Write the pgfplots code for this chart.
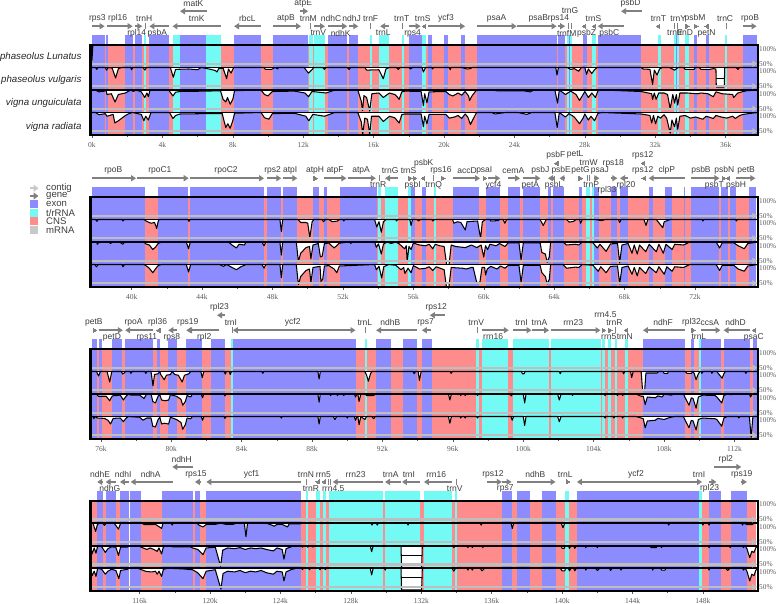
\documentclass[border=0pt]{standalone}
\usepackage{fontspec}
\usepackage{pgfplots}
\pgfplotsset{compat=1.18}
\usetikzlibrary{arrows.meta}
\setmainfont{Liberation Sans}
\newfontfamily\tickfont{Liberation Serif}
\definecolor{exon}{RGB}{140,140,255}
\definecolor{trna}{RGB}{115,250,245}
\definecolor{cns}{RGB}{255,140,140}
\definecolor{contig}{RGB}{190,190,190}
\definecolor{genec}{RGB}{128,128,128}
\definecolor{txt}{RGB}{60,60,60}
\definecolor{tickc}{RGB}{90,90,90}
\pgfplotsset{panel/.style={
  scale only axis,width=667.5pt,height=90pt,ymin=-140,ymax=100,clip=false,axis on top,
  axis line style={line width=2.2pt},
  xtick pos=bottom,xtick align=outside,minor x tick num=1,
  major tick length=3pt,minor tick length=2pt,
  xtick style={color=tickc,line width=.5pt},
  minor x tick style={color=tickc,line width=.5pt},
  ytick={-130,-90,-70,-30,-10,30,50,90},
  yticklabels={50\%,100\%,50\%,100\%,50\%,100\%,50\%,100\%},
  yticklabel pos=right,ytick style={draw=none},
  yticklabel style={font=\tickfont\fontsize{7.3}{8}\selectfont,text=tickc,inner sep=1pt,anchor=west},
  xticklabel style={font=\tickfont\fontsize{7.5}{8}\selectfont,text=tickc,yshift=-3pt,inner sep=1pt},
}}
\newcommand\E[2]{\addplot[fill=exon,draw=none] coordinates {(#1,-140)(#2,-140)(#2,126)(#1,126)};}
\newcommand\T[2]{\addplot[fill=trna,draw=none] coordinates {(#1,-140)(#2,-140)(#2,126)(#1,126)};}
\newcommand\CN[2]{\addplot[fill=cns,draw=none] coordinates {(#1,-140)(#2,-140)(#2,100)(#1,100)};}
\newcommand\cons[2]{\addplot[fill=white,draw=black,line width=1.05pt,line join=round,y filter/.expression={y-#1}] coordinates {#2};}
\newcommand\gapline[3]{\addplot[black,line width=.9pt] coordinates {(#1,#3)(#2,#3)};}
\newcommand\rowlines[2]{%
  \addplot[black,line width=1.9pt] coordinates {(#1,40)(#2,40)};
  \addplot[black,line width=1.9pt] coordinates {(#1,-20)(#2,-20)};
  \addplot[black,line width=1.9pt] coordinates {(#1,-80)(#2,-80)};
  \addplot[contig,line width=2.4pt,-{Triangle[length=5pt,width=6pt]}] coordinates {(#1,50)(#2,50)};
  \addplot[contig,line width=2.4pt,-{Triangle[length=5pt,width=6pt]}] coordinates {(#1,-10)(#2,-10)};
  \addplot[contig,line width=2.4pt,-{Triangle[length=5pt,width=6pt]}] coordinates {(#1,-70)(#2,-70)};
  \addplot[contig,line width=2.4pt,-{Triangle[length=5pt,width=6pt]}] coordinates {(#1,-130)(#2,-130)};}
\tikzset{garr/.style={genec,line width=2.1pt,-{Triangle[length=5pt,width=6pt]}}}
\newcommand\ga[2]{\addplot[garr] coordinates {(#1,150)(#2,150)};}
\newcommand\gu[2]{\addplot[garr] coordinates {(#1,190)(#2,190)};}
\newcommand\gb[2]{\addplot[genec,line width=2.1pt,{Triangle[length=5pt,width=6pt]}-{Triangle[length=5pt,width=6pt]}] coordinates {(#1,150)(#2,150)};}
\newcommand\tr[2][150]{\addplot[genec,only marks,mark=triangle*,mark size=2.3pt,mark options={rotate=-90,color=genec,fill=genec,draw=genec,line width=0pt}] coordinates {(#2,#1)};}
\newcommand\tl[2][150]{\addplot[genec,only marks,mark=triangle*,mark size=2.3pt,mark options={rotate=90,color=genec,fill=genec,draw=genec,line width=0pt}] coordinates {(#2,#1)};}
\newcommand\tk[1]{\addplot[genec,line width=.7pt] coordinates {(#1,142)(#1,158)};}
\newcommand\gl[3]{\node[font=\fontsize{8.5}{9}\selectfont,text=txt,inner sep=0pt] at (axis cs:#1,100) [yshift=#2pt] {#3};}
\def\A{26.5}\def\B{12}\def\TT{41.3}\def\M{34}
\begin{document}
\begin{tikzpicture}[x=1pt,y=1pt]
\path[use as bounding box] (0pt,0pt) rectangle (778pt,604pt);
%% ---------- panel 1
\begin{axis}[panel,at={(90.5pt,469pt)},anchor=south west,xmin=-0.085,xmax=37.84,
  xtick={0,4,...,36},xticklabels={0k,4k,8k,12k,16k,20k,24k,28k,32k,36k}]
\E{0}{.72}\CN{.72}{.81}\E{.81}{.91}\CN{.91}{1.875}\E{1.875}{2.35}\CN{2.35}{2.42}\E{2.42}{2.86}\CN{2.86}{2.95}\T{2.95}{3.05}\CN{3.05}{3.26}\E{3.26}{4.375}\CN{4.375}{4.6}\T{4.6}{4.98}\E{4.98}{6.5}\T{6.5}{7.35}\CN{7.35}{8.07}\E{8.07}{9.58}\CN{9.58}{10.27}\E{10.27}{12.27}\CN{12.27}{12.35}\T{12.35}{12.54}\CN{12.54}{12.6}\T{12.6}{13.24}\CN{13.24}{13.43}\E{13.43}{14.5}\CN{14.5}{14.6}\E{14.6}{15.13}\CN{15.13}{15.8}\T{15.8}{15.9}\CN{15.9}{16.29}\T{16.29}{16.9}\CN{16.9}{17.61}\T{17.61}{17.73}\CN{17.73}{18.01}\E{18.01}{18.73}\T{18.73}{18.96}\CN{18.96}{19.11}\E{19.11}{19.32}\CN{19.32}{20}\E{20}{20.23}\CN{20.23}{20.95}\E{20.95}{21.2}\CN{21.2}{21.86}\E{21.86}{26.44}\CN{26.44}{26.5}\E{26.5}{26.88}\CN{26.88}{27.01}\T{27.01}{27.11}\E{27.11}{27.15}\T{27.15}{27.27}\CN{27.27}{27.92}\E{27.92}{28.13}\CN{28.13}{28.43}\T{28.43}{28.62}\CN{28.62}{28.73}\E{28.73}{31.19}\CN{31.19}{32.14}\T{32.14}{32.33}\CN{32.33}{33.07}\T{33.07}{33.18}\E{33.18}{33.24}\T{33.24}{33.33}\CN{33.33}{33.69}\T{33.69}{33.9}\CN{33.9}{34.2}\E{34.2}{34.39}\CN{34.39}{34.87}\E{34.87}{35.06}\CN{35.06}{35.97}\T{35.97}{36.1}\CN{36.1}{37}\E{37}{37.76}
\cons{0}{(-.08,100)(-.03,100)(0,60)(.05,100)(37.84,100)}
\cons{60}{(-.08,100)(.2,100)(.27,95)(.34,100)(.75,100)(.83,93)(.92,100)(1.15,98)(1.34,72)(1.5,97)(1.7,100)(2.2,100)(2.25,94)(2.32,100)(2.9,100)(3.0,93)(3.1,100)(4.45,100)(4.62,74)(4.75,95)(5.5,96)(6.0,94)(6.2,100)(6.65,96)(7.0,92)(7.1,88)(7.2,97)(7.45,98)(7.65,70)(7.75,96)(7.9,85)(8.05,100)(9.75,100)(9.85,95)(10.2,95)(10.4,100)(10.55,96)(10.6,100)(12.05,100)(12.3,85)(12.5,94)(12.6,100)(13.1,100)(13.2,95)(13.3,100)(14.5,100)(14.6,95)(14.7,100)(15.5,100)(15.6,93)(16.3,94)(16.55,70)(16.7,96)(16.9,100)(17.3,100)(17.4,95)(17.5,100)(18.0,100)(18.1,96)(18.2,100)(18.75,100)(18.83,88)(18.95,100)(19.3,100)(19.35,96)(19.4,100)(20.3,100)(20.35,94)(20.4,100)(21.0,100)(21.3,96)(21.5,97)(21.6,100)(26.35,100)(26.42,80)(26.5,100)(27.0,100)(27.2,95)(27.4,97)(27.65,90)(27.8,100)(28.0,100)(28.1,82)(28.2,96)(28.4,84)(28.55,94)(28.7,100)(31.2,100)(31.3,96)(31.7,95)(31.85,55)(31.95,93)(32.1,80)(32.25,96)(32.4,100)(32.8,100)(33.1,93)(33.3,100)(33.6,100)(33.7,95)(34.2,95)(34.3,100)(34.5,100)(34.6,95)(35.1,95)(35.3,97)(35.45,96)(35.47,48)(35.92,48)(35.95,100)(36.6,100)(36.7,95)(36.8,100)(37.84,100)}
\gapline{35.47}{35.92}{12}
\cons{120}{(-.08,100)(.2,100)(.38,95)(.72,97)(.8,100)(.85,88)(1.1,90)(1.31,68)(1.5,88)(1.9,92)(2.2,100)(2.35,96)(2.5,100)(2.8,95)(3.0,80)(3.12,92)(3.2,82)(3.3,100)(4.35,100)(4.6,84)(4.75,94)(5.0,96)(6.5,97)(7.3,98)(7.45,75)(7.6,68)(7.7,80)(7.85,62)(8.0,75)(8.1,98)(9.6,100)(9.8,88)(10.0,84)(10.25,96)(11.5,97)(12.1,92)(12.3,82)(12.5,96)(13.3,92)(13.8,100)(15.1,100)(15.3,70)(15.37,45)(15.45,85)(15.6,80)(15.78,44)(15.9,90)(16.3,92)(16.55,80)(16.9,92)(17.2,88)(17.3,84)(17.45,75)(17.6,95)(17.8,97)(18.7,96)(18.83,58)(18.9,90)(19.03,66)(19.15,95)(20.1,96)(20.3,88)(20.5,84)(20.8,92)(21.0,86)(21.2,96)(21.4,84)(21.45,72)(21.6,85)(21.85,100)(22.7,100)(23,98)(24.5,98)(24.9,95)(25.1,100)(26.3,100)(26.45,65)(26.55,100)(26.9,88)(27.2,97)(27.5,88)(27.7,72)(27.9,88)(28.0,96)(28.2,80)(28.4,92)(28.6,80)(28.75,98)(29,100)(31.2,96)(31.8,90)(31.85,75)(31.95,92)(32.05,75)(32.2,92)(32.5,92)(32.7,88)(32.85,50)(33,88)(33.1,65)(33.2,88)(33.28,60)(33.4,92)(33.8,92)(34.4,90)(34.6,92)(35,90)(35.3,82)(35.45,95)(35.8,90)(36.4,88)(36.45,80)(36.7,92)(37,96)(37.2,98)(37.84,100)}
\cons{180}{(-.08,100)(.2,100)(.4,94)(.75,97)(.85,90)(1.0,92)(1.2,95)(1.3,72)(1.5,78)(1.7,85)(1.9,92)(2.1,97)(2.3,100)(2.8,95)(2.95,78)(3.05,90)(3.2,80)(3.35,100)(4.4,100)(4.6,84)(4.75,92)(5.0,96)(6.5,97)(7.4,97)(7.5,78)(7.6,60)(7.72,70)(7.85,58)(8.0,78)(8.1,98)(9.6,100)(9.8,86)(10.05,82)(10.25,97)(11.5,98)(12.15,90)(12.32,78)(12.55,95)(13.2,90)(13.8,100)(15.1,100)(15.3,75)(15.38,42)(15.5,85)(15.65,82)(15.78,42)(15.88,90)(16.3,90)(16.55,76)(16.9,90)(17.2,86)(17.45,72)(17.6,94)(17.75,96)(18.7,96)(18.83,62)(18.9,90)(19.03,70)(19.15,95)(20.1,95)(20.3,85)(20.6,88)(20.8,92)(21.0,84)(21.2,96)(21.35,88)(21.5,68)(21.65,82)(21.85,100)(22.7,100)(22.9,96)(23.2,98)(23.5,100)(24.2,100)(24.7,95)(25,100)(26.3,100)(26.43,60)(26.55,100)(26.9,88)(27.1,97)(27.4,88)(27.7,70)(27.9,85)(28,96)(28.2,80)(28.35,90)(28.55,78)(28.75,98)(29,100)(31.2,96)(31.7,92)(31.8,72)(31.9,92)(32.02,70)(32.15,90)(32.3,85)(32.5,94)(32.65,85)(32.85,45)(32.95,80)(33.1,62)(33.2,85)(33.28,55)(33.4,90)(33.7,92)(34,85)(34.3,88)(34.7,82)(34.9,90)(35.3,84)(35.45,92)(35.75,88)(36.05,85)(36.4,90)(36.55,84)(36.8,92)(37,95)(37.3,97)(37.84,100)}
\rowlines{-.08}{37.8}
\ga{0}{.72}\ga{.83}{2.31}\ga{2.42}{2.86}\tk{3.05}\ga{4.375}{3.26}\gu{6.55}{5.0}\ga{7.33}{4.57}\ga{9.58}{8.07}\ga{10.27}{11.88}\gu{11.8}{12.28}\tk{12.4}\ga{12.6}{13.24}\ga{13.43}{14.5}\ga{14.6}{15.13}\tk{15.84}\ga{16.9}{16.37}\tk{17.65}\ga{18.01}{18.67}\tl{18.9}\ga{19.11}{21.2}\ga{21.86}{24.13}\ga{24.17}{26.4}\ga{26.5}{26.88}\tk{27.05}\tk{27.21}\tl{27.98}\tl{28.55}\ga{30.2}{28.73}\gu{31.23}{30.06}\tl{32.2}\tk{33.1}\tk{33.27}\tr{33.8}\tr{34.3}\tl{34.95}\tk{36.03}\ga{37}{37.76}
\gl{.3}{\A}{rps3}\gl{1.46}{\A}{rpl16}\gl{2.54}{\B}{rpl14}\gl{2.97}{\A}{trnH}\gl{3.71}{\B}{psbA}\gl{5.76}{\TT}{matK}\gl{5.95}{\A}{trnK}\gl{8.83}{\A}{rbcL}\gl{11.02}{\A}{atpB}\gl{12}{\TT}{atpE}\gl{12.29}{\A}{trnM}\gl{12.86}{\B}{trnV}\gl{13.58}{\A}{ndhC}\gl{14.13}{\B}{ndhK}\gl{14.75}{\A}{ndhJ}\gl{15.83}{\A}{trnF}\gl{16.55}{\B}{trnL}\gl{17.6}{\A}{trnT}\gl{18.22}{\B}{rps4}\gl{18.79}{\A}{trnS}\gl{20.11}{\A}{ycf3}\gl{22.99}{\A}{psaA}\gl{25.36}{\A}{psaB}\gl{26.5}{\A}{rps14}\gl{27.16}{\M}{trnG}\gl{26.97}{\B}{trnfM}\gl{28.1}{\B}{psbZ}\gl{28.49}{\A}{trnS}\gl{29.39}{\B}{psbC}\gl{30.6}{\TT}{psbD}\gl{32.18}{\A}{trnT}\gl{33.12}{\B}{trnE}\gl{33.31}{\A}{trnY}\gl{33.69}{\B}{trnD}\gl{34.26}{\A}{psbM}\gl{34.92}{\B}{petN}\gl{35.97}{\A}{trnC}\gl{37.39}{\A}{rpoB}
\end{axis}
%% ---------- panel 2
\begin{axis}[panel,at={(90.5pt,317pt)},anchor=south west,xmin=37.66,xmax=75.58,
  xtick={40,44,...,72},xticklabels={40k,44k,48k,52k,56k,60k,64k,68k,72k}]
\E{37.75}{40.78}\CN{40.78}{41.52}\E{41.52}{43.22}\CN{43.22}{43.33}\E{43.33}{47.52}\CN{47.52}{47.71}\E{47.71}{48.5}\CN{48.5}{48.62}\E{48.62}{49.39}\CN{49.39}{50.32}\E{50.32}{50.64}\CN{50.64}{50.92}\E{50.92}{51.09}\CN{51.09}{51.83}\E{51.83}{53.92}\CN{53.92}{53.98}\T{53.98}{54.15}\CN{54.15}{54.39}\T{54.39}{55.15}\CN{55.15}{55.68}\T{55.68}{55.87}\E{55.87}{56.09}\CN{56.09}{56.47}\E{56.47}{56.72}\CN{56.72}{57.16}\T{57.16}{57.27}\CN{57.27}{58.23}\E{58.23}{59.75}\CN{59.75}{60.13}\E{60.13}{60.94}\CN{60.94}{61.36}\E{61.36}{62.06}\CN{62.06}{62.21}\E{62.21}{63.22}\CN{63.22}{63.65}\E{63.65}{63.84}\CN{63.84}{63.95}\E{63.95}{64.54}\CN{64.54}{65.39}\E{65.39}{65.56}\CN{65.56}{65.81}\T{65.81}{66.06}\CN{66.06}{66.13}\T{66.13}{66.25}\E{66.25}{66.57}\CN{66.57}{67.23}\E{67.23}{67.59}\CN{67.59}{67.74}\E{67.74}{68.2}\CN{68.2}{69.37}\E{69.37}{69.64}\CN{69.64}{70.32}\E{70.32}{70.68}\CN{70.68}{71.36}\E{71.36}{71.45}\CN{71.45}{71.78}\E{71.78}{73.39}\CN{73.39}{73.5}\E{73.5}{73.88}\CN{73.88}{73.99}\E{73.99}{74.33}\CN{74.33}{75.05}\E{75.05}{75.47}
\cons{60}{(37.66,100)(37.95,100)(38.02,95)(38.1,100)(39.45,100)(39.5,96)(39.58,100)(40.7,100)(40.85,95)(41.1,90)(41.3,92)(41.42,76)(41.52,98)(41.6,100)(43.2,100)(43.25,95)(43.32,100)(48.42,100)(48.5,68)(48.58,100)(49.45,100)(49.6,92)(49.9,92)(50.0,90)(50.12,52)(50.25,94)(50.35,100)(50.8,100)(50.9,94)(51.0,100)(51.2,100)(51.4,94)(51.7,96)(51.8,100)(52,100)(52.05,96)(52.1,100)(53.8,100)(53.92,80)(54.05,94)(54.18,66)(54.3,94)(54.45,100)(55,100)(55.05,96)(55.1,100)(55.8,100)(55.87,84)(55.95,100)(56.2,100)(56.3,96)(56.4,100)(57.05,100)(57.1,96)(57.2,100)(58.23,100)(58.3,90)(58.5,94)(58.7,92)(58.95,72)(59.05,94)(59.3,95)(59.65,96)(59.72,76)(59.82,50)(59.92,94)(60.1,100)(60.35,100)(60.4,96)(60.8,97)(60.9,100)(61.1,100)(61.2,90)(61.3,100)(63.2,100)(63.38,84)(63.55,100)(64.7,100)(64.85,93)(65.1,95)(65.25,100)(65.45,100)(65.5,90)(65.6,100)(66.3,100)(66.7,97)(66.9,100)(67.65,100)(67.72,92)(67.8,100)(69.1,100)(69.22,84)(69.32,100)(69.8,100)(70.17,78)(70.25,94)(70.6,100)(72.4,100)(72.45,96)(72.5,100)(74.3,100)(74.35,96)(74.4,100)(75.58,100)}
\cons{120}{(37.66,100)(38,100)(38.05,94)(38.15,100)(38.7,100)(38.8,96)(38.9,100)(39.3,100)(39.5,94)(39.6,100)(40.7,100)(40.8,95)(41.0,92)(41.2,80)(41.35,86)(41.5,96)(41.7,100)(43.1,100)(43.23,82)(43.33,100)(45.5,100)(45.7,92)(45.95,84)(46.1,94)(46.4,92)(46.5,100)(47.4,100)(47.52,90)(47.62,100)(48.42,100)(48.5,65)(48.58,100)(49.35,100)(49.47,48)(49.6,70)(49.9,85)(50.1,88)(50.18,55)(50.3,92)(50.6,96)(50.72,60)(50.82,62)(50.95,96)(51.2,97)(51.5,84)(51.8,97)(52.4,100)(52.45,96)(52.5,100)(53.8,100)(53.9,86)(54.02,95)(54.18,68)(54.3,94)(54.5,100)(54.75,96)(55,100)(55.2,95)(55.5,82)(55.6,90)(55.65,48)(55.75,88)(55.87,80)(56,97)(56.35,92)(56.7,90)(56.9,94)(57.1,82)(57.25,94)(57.5,90)(57.75,88)(57.9,36)(58.02,36)(58.15,92)(58.4,88)(58.95,85)(59.3,92)(59.6,85)(59.85,92)(60.0,60)(60.1,90)(60.22,80)(60.35,94)(60.7,90)(60.9,96)(61.2,88)(61.4,98)(62.0,98)(62.12,52)(62.25,98)(63.2,98)(63.3,72)(63.5,68)(63.6,46)(63.72,60)(63.8,100)(64.5,100)(64.7,92)(65.2,94)(65.4,92)(65.6,100)(66.2,98)(66.45,84)(66.6,94)(66.95,75)(67.2,95)(67.6,96)(67.72,44)(67.85,92)(68.2,96)(68.42,70)(68.55,92)(68.72,68)(68.85,92)(69.2,74)(69.4,94)(69.8,74)(69.95,94)(70.2,70)(70.35,94)(70.7,80)(70.85,94)(71.35,92)(71.7,100)(73.2,100)(73.4,84)(73.55,98)(74.2,98)(74.45,90)(74.8,82)(75.0,96)(75.58,100)}
\cons{180}{(37.66,100)(37.9,100)(38,94)(38.1,100)(39.45,100)(39.5,94)(39.6,100)(40.7,100)(40.9,94)(41.0,90)(41.2,78)(41.35,88)(41.5,97)(41.7,100)(43.1,100)(43.23,80)(43.35,100)(45.0,100)(45.2,95)(45.4,100)(45.7,92)(45.95,86)(46.2,94)(46.5,100)(47.4,100)(47.52,90)(47.62,100)(48.42,100)(48.5,65)(48.58,100)(49.35,100)(49.47,46)(49.6,68)(49.9,84)(50.1,88)(50.18,52)(50.3,92)(50.7,95)(50.75,55)(50.85,60)(50.95,96)(51.2,97)(51.5,88)(51.65,78)(51.8,96)(53.8,100)(53.9,86)(54.05,95)(54.2,64)(54.32,94)(54.6,100)(55,98)(55.3,86)(55.45,92)(55.52,76)(55.7,90)(55.87,78)(56,97)(56.35,88)(56.7,90)(56.9,94)(57.1,84)(57.3,94)(57.75,86)(57.88,40)(58.02,40)(58.15,92)(58.8,90)(59.0,88)(59.3,92)(59.4,92)(59.6,52)(59.78,52)(59.9,92)(60.05,92)(60.1,72)(60.2,88)(60.4,95)(60.75,88)(60.95,96)(61.2,90)(61.4,98)(62,98)(62.12,52)(62.25,98)(63.2,98)(63.3,78)(63.5,68)(63.6,48)(63.72,60)(63.8,100)(64.5,100)(64.7,90)(65.2,93)(65.4,92)(65.6,100)(66.2,98)(66.5,82)(66.65,94)(66.95,78)(67.2,95)(67.6,96)(67.72,48)(67.85,92)(68.2,96)(68.42,74)(68.55,92)(68.72,70)(68.85,92)(69.2,76)(69.4,94)(69.8,78)(69.95,94)(70.25,74)(70.4,94)(70.7,82)(70.85,94)(71.35,92)(71.7,100)(73.2,100)(73.4,84)(73.55,98)(74.2,98)(74.45,88)(74.8,82)(75.0,96)(75.58,100)}
\rowlines{37.66}{75.54}
\ga{37.75}{40.25}\ga{40.32}{43.24}\ga{43.33}{47.52}\ga{47.71}{48.5}\ga{48.62}{49.41}\tr{50.42}\ga{50.92}{52.2}\ga{52.27}{53.87}\tk{54.05}\ga{55.15}{54.39}\tr{55.8}\tl{56.58}\tr{56.05}\tk{57.16}\tr{57.67}\ga{58.23}{59.79}\tr{60.03}\ga{60.26}{60.94}\ga{61.36}{62.06}\ga{62.21}{63.22}\ga{63.84}{63.65}\tl{63.98}\tl[190]{64.16}\ga{64.54}{64.3}\tr{65.47}\tk{65.9}\tk{66.02}\ga{66.25}{66.57}\ga{67.23}{67.59}\ga{68.2}{67.74}\tl[190]{69.07}\tl{69.12}\ga{71.45}{69.37}\ga{71.78}{73.39}\tr{73.6}\tl{73.9}\ga{74.33}{75.43}
\gl{38.96}{\A}{rpoB}\gl{41.6}{\A}{rpoC1}\gl{45.36}{\A}{rpoC2}\gl{48}{\A}{rps2}\gl{49}{\A}{atpI}\gl{50.42}{\A}{atpH}\gl{51.55}{\A}{atpF}\gl{53.03}{\A}{atpA}\gl{54}{\B}{trnR}\gl{54.68}{\A}{trnG}\gl{55.73}{\A}{trnS}\gl{56.59}{\M}{psbK}\gl{55.96}{\B}{psbI}\gl{57.16}{\B}{trnQ}\gl{57.57}{\A}{rps16}\gl{59.05}{\A}{accD}\gl{60.03}{\A}{psaI}\gl{60.55}{\B}{ycf4}\gl{61.68}{\A}{cemA}\gl{62.65}{\B}{petA}\gl{63.22}{\A}{psbJ}\gl{64}{\B}{psbL}\gl{64.1}{\TT}{psbF}\gl{65.19}{43}{petL}\gl{64.4}{\A}{psbE}\gl{65.5}{\A}{petG}\gl{65.96}{\M}{trnW}\gl{66.1}{\B}{trnP}\gl{66.6}{\A}{psaJ}\gl{67}{7}{rpl33}\gl{67.36}{\M}{rps18}\gl{68.08}{\B}{rpl20}\gl{69.03}{\TT}{rps12}\gl{69.03}{\A}{rps12}\gl{70.4}{\A}{clpP}\gl{72.34}{\A}{psbB}\gl{73.1}{\B}{psbT}\gl{73.67}{\A}{psbN}\gl{74.33}{\B}{psbH}\gl{74.9}{\A}{petB}
\end{axis}
%% ---------- panel 3
\begin{axis}[panel,at={(90.5pt,165pt)},anchor=south west,xmin=75.41,xmax=113.34,
  xtick={76,80,...,112},xticklabels={76k,80k,84k,88k,92k,96k,100k,104k,108k,112k}]
\E{75.5}{75.79}\CN{75.79}{75.92}\E{75.92}{76.04}\CN{76.04}{76.66}\E{76.66}{77.19}\CN{77.19}{77.38}\E{77.38}{78.97}\CN{78.97}{79.2}\E{79.2}{79.37}\CN{79.37}{79.83}\E{79.83}{80.3}\CN{80.3}{80.85}\E{80.85}{81.72}\CN{81.72}{82.25}\E{82.25}{83.05}\CN{83.05}{83.39}\T{83.39}{83.5}\E{83.5}{90.47}\CN{90.47}{90.98}\T{90.98}{91.11}\CN{91.11}{91.66}\E{91.66}{92.5}\CN{92.5}{93.16}\E{93.16}{93.94}\CN{93.94}{94.24}\E{94.24}{94.79}\CN{94.79}{97.34}\T{97.34}{97.48}\CN{97.48}{97.63}\T{97.63}{99.16}\CN{99.16}{99.39}\T{99.39}{101.47}\CN{101.47}{101.55}\T{101.55}{104.39}\CN{104.39}{104.45}\T{104.45}{104.64}\CN{104.64}{104.83}\T{104.83}{105}\CN{105}{105.2}\T{105.2}{105.3}\CN{105.3}{105.77}\T{105.77}{105.96}\CN{105.96}{106.8}\E{106.8}{109.2}\CN{109.2}{109.54}\E{109.54}{109.73}\CN{109.73}{109.96}\T{109.96}{110.09}\E{110.09}{111.21}\CN{111.21}{111.38}\E{111.38}{112.91}\CN{112.91}{113.03}\E{113.03}{113.29}
\cons{60}{(75.41,100)(75.75,100)(75.87,88)(75.97,100)(76.35,100)(76.5,72)(76.62,100)(77.15,100)(77.25,93)(77.4,100)(77.65,100)(77.7,95)(77.78,100)(78.5,100)(78.55,95)(78.62,100)(78.85,100)(78.96,62)(79.05,92)(79.25,94)(79.35,100)(79.4,92)(79.6,78)(79.72,90)(79.95,92)(80.05,100)(80.2,92)(80.4,90)(80.62,72)(80.75,90)(81.0,94)(81.1,100)(81.68,100)(81.76,84)(81.85,100)(83.0,100)(83.07,93)(83.13,100)(83.3,100)(83.35,92)(83.42,100)(85.15,100)(85.2,95)(85.27,100)(88.33,100)(88.4,80)(88.47,100)(91.0,100)(91.1,90)(91.2,74)(91.32,94)(91.4,100)(93.75,100)(93.8,94)(93.88,100)(94.03,100)(94.1,76)(94.2,100)(95.85,100)(95.9,95)(95.97,100)(99.9,100)(99.95,94)(100.05,94)(100.1,100)(102.05,100)(102.1,94)(102.17,100)(105.65,100)(105.7,94)(105.77,100)(106.1,100)(106.16,84)(106.25,100)(106.7,100)(106.78,50)(106.9,50)(106.97,96)(107.6,96)(107.7,100)(107.95,100)(108,95)(108.2,95)(108.25,100)(109.2,100)(109.3,95)(109.55,95)(109.65,100)(109.72,94)(109.82,78)(109.95,94)(110.05,100)(110.1,100)(110.15,95)(110.22,100)(110.68,100)(110.72,95)(110.78,100)(111,100)(111.2,88)(111.3,82)(111.4,94)(111.48,100)(112.6,100)(112.65,95)(112.72,100)(113.34,100)}
\cons{120}{(75.41,100)(75.75,100)(75.85,94)(76.3,94)(76.5,82)(76.65,95)(77.1,97)(77.28,84)(77.4,92)(77.55,100)(77.7,97)(78.2,97)(78.45,88)(78.6,100)(78.85,100)(78.95,80)(79.1,76)(79.25,94)(79.35,98)(79.45,84)(79.65,82)(79.85,84)(79.95,98)(80.3,94)(80.55,86)(80.65,70)(80.8,80)(80.9,96)(81.1,92)(81.2,100)(81.7,100)(81.78,90)(81.85,100)(83.0,100)(83.05,95)(83.12,100)(88.33,100)(88.4,78)(88.47,100)(89,100)(89.05,96)(89.12,100)(89.4,100)(89.45,96)(89.5,100)(89.75,100)(89.8,96)(89.87,100)(90.4,100)(90.47,92)(90.55,100)(90.6,100)(90.67,80)(90.77,100)(91,100)(91.1,96)(91.5,96)(91.6,100)(95.75,100)(95.83,84)(95.92,100)(96.4,100)(96.45,96)(96.5,100)(96.65,100)(96.7,96)(96.75,100)(97.35,100)(97.4,96)(97.46,100)(99.25,100)(99.32,95)(99.4,100)(100.0,100)(100.08,76)(100.16,100)(101.95,100)(102.05,84)(102.15,100)(102.75,100)(102.8,96)(102.85,100)(104.6,100)(104.65,96)(104.7,100)(105.3,100)(105.35,96)(105.4,100)(105.6,100)(105.65,96)(105.7,100)(106.4,100)(106.7,94)(106.82,94)(106.93,72)(107.05,92)(107.5,90)(107.65,95)(107.9,92)(108,100)(108.4,97)(108.6,100)(109.1,100)(109.2,90)(109.42,70)(109.55,90)(109.65,88)(109.82,62)(109.95,92)(110.2,97)(110.9,96)(111.0,92)(111.28,76)(111.4,96)(111.6,100)(111.8,98)(112,100)(112.85,100)(112.92,92)(113,100)(113.34,100)}
\cons{180}{(75.41,100)(75.55,100)(75.6,94)(75.65,100)(75.8,96)(76.2,95)(76.4,90)(76.55,80)(76.7,95)(77.1,96)(77.28,86)(77.4,94)(77.55,100)(78.2,98)(78.4,90)(78.6,96)(78.85,96)(78.95,74)(79.1,72)(79.25,92)(79.35,98)(79.45,80)(79.6,82)(79.85,80)(79.95,98)(80.3,92)(80.55,84)(80.65,66)(80.8,78)(80.9,96)(81.1,94)(81.2,100)(81.7,100)(81.78,90)(81.85,100)(83.0,100)(83.05,95)(83.12,100)(86.2,100)(86.25,96)(86.3,100)(88.33,100)(88.4,80)(88.47,100)(89.2,100)(89.3,92)(89.4,100)(89.95,100)(90,96)(90.05,100)(90.4,100)(90.47,90)(90.55,100)(90.6,100)(90.67,78)(90.77,100)(91,92)(91.1,100)(91.4,100)(91.5,94)(91.6,100)(95.75,100)(95.83,82)(95.92,100)(96.4,100)(96.45,96)(96.5,100)(96.65,100)(96.7,96)(96.75,100)(97.35,100)(97.4,96)(97.46,100)(99.3,100)(99.37,90)(99.45,100)(100,100)(100.08,76)(100.16,100)(101.95,100)(102.05,86)(102.15,100)(104.6,100)(104.65,96)(104.7,100)(105.1,100)(105.15,96)(105.2,100)(105.6,100)(105.65,96)(105.7,100)(106.4,100)(106.7,96)(106.82,94)(106.93,70)(107.05,88)(107.5,90)(107.65,95)(108,92)(108.3,97)(108.6,100)(109.1,100)(109.2,90)(109.42,70)(109.55,90)(109.65,88)(109.82,64)(109.95,92)(110.2,96)(110.9,94)(111.0,92)(111.28,74)(111.4,96)(111.6,100)(112.2,100)(112.25,96)(112.3,100)(112.85,100)(112.95,44)(113.05,100)(113.34,100)}
\rowlines{75.41}{113.3}
\tr{75.62}\ga{75.92}{77.25}\ga{78.95}{77.38}\tl{79.3}\ga{80.3}{79.83}\ga{81.3}{80.85}\ga{82.74}{80.9}\gu{83.03}{82.6}\tk{83.45}\gb{83.5}{90.47}\tk{91.05}\ga{93.94}{91.64}\gu{95.55}{94.69}\ga{94.77}{94.24}\tk{97.4}\ga{97.63}{99.18}\ga{99.39}{100.47}\ga{100.5}{101.47}\ga{101.55}{104.39}\tr{104.55}\tr{104.92}\tk{105.25}\tl{105.87}\ga{109.18}{106.8}\tr{109.64}\ga{110.09}{111.21}\ga{112.91}{111.38}\tl{113.16}
\gl{75.6}{\A}{petB}\gl{76.63}{\B}{petD}\gl{77.86}{\A}{rpoA}\gl{78.61}{\B}{rps11}\gl{79.22}{\A}{rpl36}\gl{80.03}{\B}{rps8}\gl{80.94}{\A}{rps19}\gl{81.87}{\B}{rpl2}\gl{82.74}{\TT}{rpl23}\gl{83.39}{\A}{trnI}\gl{86.9}{\A}{ycf2}\gl{91}{\A}{trnL}\gl{92.45}{\A}{ndhB}\gl{95.05}{\TT}{rps12}\gl{94.45}{\A}{rps7}\gl{97.33}{\A}{trnV}\gl{98.29}{\B}{rrn16}\gl{99.9}{\A}{trnI}\gl{100.92}{\A}{trnA}\gl{102.84}{\A}{rrn23}\gl{104.67}{\M}{rrn4.5}\gl{104.86}{\B}{rrn5}\gl{105.18}{\A}{trnR}\gl{105.77}{\B}{trnN}\gl{107.95}{\A}{ndhF}\gl{109.56}{\A}{rpl32}\gl{109.98}{\B}{trnL}\gl{110.6}{\A}{ccsA}\gl{112.06}{\A}{ndhD}\gl{113.1}{\B}{psaC}
\end{axis}
%% ---------- panel 4
\begin{axis}[panel,at={(90.5pt,13.3pt)},anchor=south west,xmin=113.21,xmax=151.13,
  xtick={116,120,...,148},xticklabels={116k,120k,124k,128k,132k,136k,140k,144k,148k}]
\CN{113.29}{113.59}\E{113.59}{113.93}\CN{113.93}{114.07}\E{114.07}{114.67}\CN{114.67}{114.88}\E{114.88}{115.39}\E{115.47}{116.08}\CN{116.08}{117.29}\E{117.29}{119.05}\CN{119.05}{119.14}\E{119.14}{119.43}\CN{119.43}{119.79}\E{119.79}{125.17}\CN{125.17}{125.43}\T{125.43}{125.56}\CN{125.56}{126.04}\T{126.04}{126.23}\CN{126.23}{126.42}\T{126.42}{126.59}\CN{126.59}{126.78}\T{126.78}{129.84}\CN{129.84}{129.94}\T{129.94}{131.91}\CN{131.91}{132.13}\T{132.13}{133.74}\CN{133.74}{133.93}\T{133.93}{134.05}\CN{134.05}{136.6}\E{136.6}{137.13}\CN{137.13}{137.44}\E{137.44}{138.17}\CN{138.17}{138.84}\E{138.84}{139.63}\CN{139.63}{140.18}\T{140.18}{140.37}\CN{140.37}{140.84}\E{140.84}{147.78}\T{147.78}{147.97}\CN{147.97}{148.33}\E{148.33}{149.05}\CN{149.05}{149.59}\E{149.59}{150.5}\CN{150.5}{151.03}
\cons{60}{(113.21,100)(113.35,100)(113.5,78)(113.6,96)(113.7,100)(113.9,100)(114.0,94)(114.1,100)(114.55,100)(114.68,92)(114.8,84)(114.92,100)(116.1,100)(116.3,96)(116.6,96)(116.9,97)(117.25,86)(117.33,100)(117.8,100)(117.85,95)(117.9,100)(119.25,100)(119.4,94)(119.6,90)(119.8,97)(120.3,97)(120.6,100)(120.9,97)(121.3,97)(121.5,100)(121.95,100)(122.04,64)(122.13,100)(123.2,100)(123.5,95)(123.65,92)(123.8,97)(124.1,97)(124.4,90)(124.5,98)(125.1,98)(125.2,100)(129.15,100)(129.2,95)(129.26,100)(129.45,100)(129.5,95)(129.56,100)(131.2,100)(131.25,95)(131.3,100)(135.35,100)(135.4,95)(135.46,100)(137.1,100)(137.17,86)(137.25,100)(139.95,100)(140.05,88)(140.15,100)(146,100)(146.05,95)(146.12,100)(147.95,100)(148,95)(148.05,100)(148.3,100)(148.35,95)(148.4,100)(150.2,100)(150.25,95)(150.3,100)(150.55,96)(150.8,96)(150.9,100)(151.13,100)}
\cons{120}{(113.21,100)(113.3,78)(113.42,94)(113.52,80)(113.62,100)(113.85,97)(114.05,82)(114.2,92)(114.4,97)(114.65,96)(114.8,74)(114.92,96)(115.3,96)(115.4,100)(115.9,100)(116.1,96)(116.4,90)(116.6,94)(116.8,90)(117,85)(117.1,94)(117.25,78)(117.35,97)(117.6,100)(117.9,97)(118.4,97)(118.9,97)(119.0,94)(119.3,90)(119.6,76)(119.78,94)(120.3,96)(120.6,45)(120.72,88)(121,94)(121.4,92)(121.7,95)(122,90)(122.3,94)(122.6,92)(122.9,94)(123.2,90)(123.6,86)(123.8,94)(124.1,90)(124.2,64)(124.32,92)(124.6,97)(124.8,100)(125.2,100)(125.25,96)(125.3,100)(125.5,100)(125.55,96)(125.6,100)(125.8,100)(125.85,96)(125.9,100)(129.1,100)(129.18,84)(129.27,100)(130.85,100)(130.88,42)(132.02,42)(132.06,100)(133.8,100)(133.85,95)(133.92,100)(134.6,100)(134.65,95)(134.7,100)(134.85,100)(134.9,95)(134.95,100)(135.45,100)(135.5,95)(135.55,100)(139.95,100)(140,93)(140.12,93)(140.18,100)(140.35,100)(140.42,93)(140.5,100)(140.65,100)(140.72,93)(140.82,100)(141.3,100)(141.35,95)(141.4,100)(141.95,100)(142,95)(142.05,100)(145,100)(145.05,95)(145.35,95)(145.4,100)(145.6,100)(145.65,95)(145.7,100)(148.3,100)(148.35,95)(148.4,100)(149.5,100)(149.55,95)(149.6,100)(150.25,100)(150.3,95)(150.4,100)(150.5,92)(150.66,68)(150.78,85)(150.9,82)(151,94)(151.13,100)}
\gapline{130.88}{132.02}{-45}
\cons{180}{(113.21,100)(113.3,80)(113.42,92)(113.52,78)(113.62,100)(113.85,97)(114.05,84)(114.2,92)(114.4,97)(114.65,94)(114.82,72)(114.92,94)(115.3,97)(115.4,100)(115.9,100)(116.1,96)(116.4,91)(116.7,90)(116.9,92)(117,84)(117.1,92)(117.25,78)(117.35,97)(117.6,100)(118.5,98)(119.0,96)(119.3,88)(119.6,72)(119.78,92)(120.3,96)(120.62,44)(120.74,86)(121,92)(121.4,90)(121.7,94)(122,88)(122.3,92)(122.6,90)(122.9,94)(123.2,88)(123.6,84)(123.8,92)(124.1,90)(124.2,66)(124.32,90)(124.6,96)(124.9,100)(125.2,100)(125.25,96)(125.3,100)(125.6,100)(125.65,96)(125.7,100)(126.2,100)(126.25,96)(126.3,100)(126.5,100)(126.55,96)(126.6,100)(129.1,100)(129.18,82)(129.27,100)(129.9,100)(129.95,95)(130,100)(130.85,100)(130.88,42)(132.02,42)(132.06,100)(133.75,100)(133.85,92)(133.95,100)(134.6,100)(134.65,95)(134.7,100)(134.85,100)(134.9,95)(134.95,100)(135.35,100)(135.45,93)(135.6,100)(139.9,100)(140,93)(140.15,93)(140.2,100)(140.35,100)(140.42,93)(140.5,100)(140.65,100)(140.72,93)(140.82,100)(141.3,100)(141.35,95)(141.4,100)(141.9,100)(142,94)(142.15,100)(142.7,100)(142.75,94)(142.85,100)(143.3,100)(143.35,95)(143.4,100)(145.1,100)(145.15,95)(145.2,100)(145.6,100)(145.65,95)(145.85,95)(145.9,100)(148.3,100)(148.35,95)(148.4,100)(149.3,100)(149.4,94)(149.55,100)(150.25,100)(150.3,95)(150.4,100)(150.5,92)(150.66,66)(150.78,84)(150.9,80)(151,94)(151.13,100)}
\gapline{130.88}{132.02}{-105}
\rowlines{113.21}{151.08}
\ga{113.93}{113.59}\ga{114.67}{114.07}\ga{115.39}{114.88}\ga{117.91}{115.49}\gu{119.05}{117.86}\ga{119.43}{119.14}\ga{125.17}{119.79}\tk{125.47}\tl{126.15}\tl{126.5}\tk{126.75}\tk{126.85}\ga{129.84}{126.97}\ga{130.83}{129.94}\ga{131.91}{130.9}\ga{133.74}{132.15}\tk{134.0}\ga{135.73}{136.58}\ga{136.6}{137.13}\ga{137.44}{139.63}\tr{140.3}\gb{140.84}{147.95}\ga{148.33}{148.77}\gu{148.63}{150.18}\ga{150.14}{150.5}
\gl{113.75}{\A}{ndhE}\gl{114.31}{\B}{ndhG}\gl{115.07}{\A}{ndhI}\gl{116.63}{\A}{ndhA}\gl{118.39}{\TT}{ndhH}\gl{119.2}{\A}{rps15}\gl{122.36}{\A}{ycf1}\gl{125.45}{\A}{trnN}\gl{125.73}{\B}{trnR}\gl{126.44}{\A}{rrn5}\gl{127}{\B}{rrn4.5}\gl{128.27}{\A}{rrn23}\gl{130.26}{\A}{trnA}\gl{131.3}{\A}{trnI}\gl{132.85}{\A}{rrn16}\gl{133.9}{\B}{trnV}\gl{136.07}{\A}{rps12}\gl{136.77}{\B}{rps7}\gl{138.48}{\A}{ndhB}\gl{140.18}{\A}{trnL}\gl{144.2}{\A}{ycf2}\gl{147.78}{\A}{trnI}\gl{148.38}{\B}{rpl23}\gl{149.3}{\TT}{rpl2}\gl{150.2}{\A}{rps19}
\end{axis}
%% ---------- row names
\foreach \y/\t in {547.3/phaseolus Lunatus,524/phaseolus vulgaris,501/vigna unguiculata,477.3/vigna radiata}
  \node[anchor=east,inner sep=0pt,font=\itshape\fontsize{9.7}{10}\selectfont,text=black!85] at (81.7pt,\y pt) {\t};
%% ---------- legend
\draw[contig!85,line width=2.4pt,-{Triangle[length=5pt,width=7pt]}] (30pt,415.7pt) -- (38.5pt,415.7pt);
\draw[genec,line width=2.4pt,-{Triangle[length=5pt,width=7pt]}] (30pt,408pt) -- (38.5pt,408pt);
\fill[exon] (30pt,395.7pt) rectangle (38pt,403.7pt);
\fill[trna] (30pt,387.3pt) rectangle (38pt,395.3pt);
\fill[cns] (30pt,379pt) rectangle (38pt,387pt);
\fill[contig!85] (30pt,370pt) rectangle (38pt,378pt);
\foreach \y/\t in {415.7/contig,408/gene,399.7/exon,391.3/t\slash rRNA,383/CNS,374/mRNA}
  \node[anchor=west,inner sep=0pt,font=\fontsize{9.6}{10}\selectfont,text=txt] at (46pt,\y pt) {\t};
\end{tikzpicture}
\end{document}
